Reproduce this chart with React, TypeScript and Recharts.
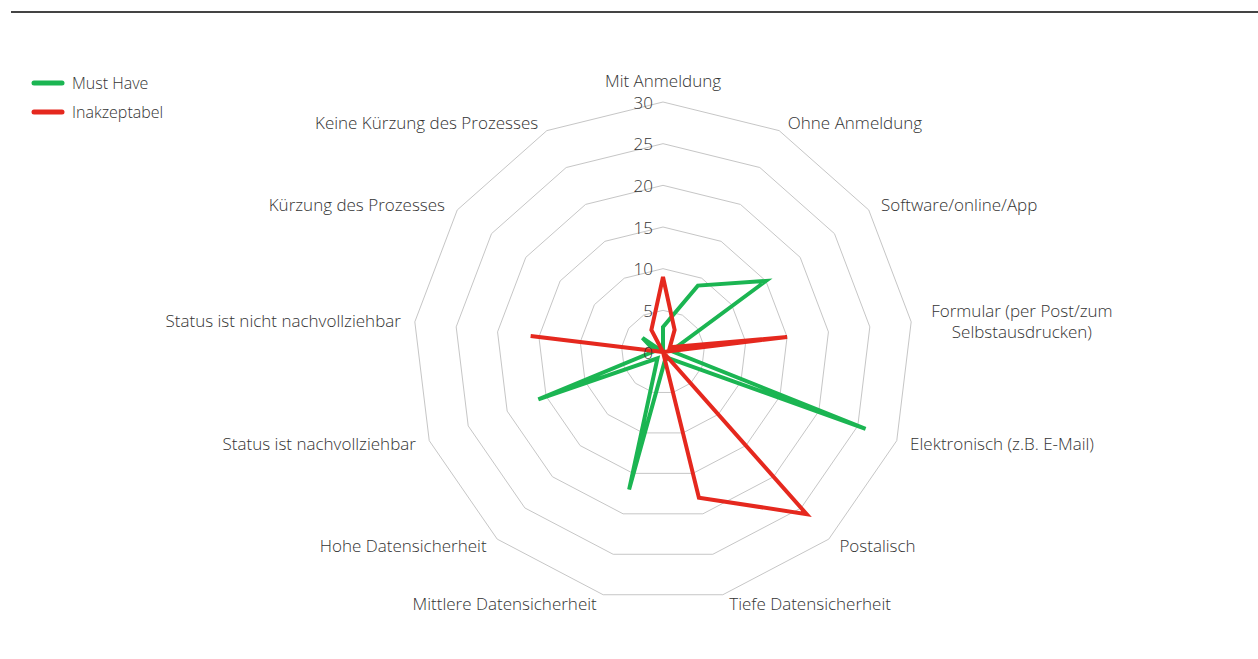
import React from "react";
import {
  RadarChart,
  Radar,
  PolarGrid,
  PolarAngleAxis,
  PolarRadiusAxis,
  Legend,
} from "recharts";

const CATEGORIES = [
  "Mit Anmeldung",
  "Ohne Anmeldung",
  "Software/online/App",
  "Formular (per Post/zum Selbstausdrucken)",
  "Elektronisch (z.B. E-Mail)",
  "Postalisch",
  "Tiefe Datensicherheit",
  "Mittlere Datensicherheit",
  "Hohe Datensicherheit",
  "Status ist nachvollziehbar",
  "Status ist nicht nachvollziehbar",
  "Kürzung des Prozesses",
  "Keine Kürzung des Prozesses",
];

const MUST_HAVE = [3, 9, 15, 1, 26, 1, 1, 17, 1, 16, 1, 3, 0];
const INAKZEPTABEL = [9, 3, 1, 15, 0, 26, 18, 0, 0, 0, 16, 0, 3];

const SERIES_NAMES = ["Must Have", "Inakzeptabel"];
const RADIUS_TICKS = [0, 5, 10, 15, 20, 25, 30];

// lange Beschriftung umbrechen wie im Original
const LABEL_LINES: Record<string, string[]> = {
  "Formular (per Post/zum Selbstausdrucken)": [
    "Formular (per Post/zum",
    "Selbstausdrucken)",
  ],
};

const data = CATEGORIES.map((name, i) => ({
  name,
  mustHave: MUST_HAVE[i],
  inakzeptabel: INAKZEPTABEL[i],
}));

const CX = 663;
const CY = 352;
const R = 250;
const GREEN = "#1bb552";
const RED = "#e5281e";
const FONT = "'Open Sans', 'Liberation Sans', sans-serif";
const TEXT = "#333";
const FS = 17;

function AngleTick(props: any) {
  const { payload } = props;
  const angle = (payload.coordinate * Math.PI) / 180;
  const cos = Math.cos(angle);
  const sin = Math.sin(angle);
  const lines = LABEL_LINES[payload.value] || [payload.value];
  let x = CX + R * cos;
  let y = CY - R * sin - 9 * sin;
  let anchor: "start" | "end" | "middle" = "middle";
  if (Math.abs(cos) < 0.05) {
    y = CY - R - 22;
  } else if (cos > 0) {
    anchor = "start";
    x += 4 + 10 * cos;
  } else {
    anchor = "end";
    x -= 4 + 10 * Math.abs(cos);
  }
  if (lines.length > 1) {
    // Block zentriert ausrichten
    const longest = Math.max(...lines.map((l) => l.length));
    if (anchor === "start") x += longest * 4.4;
    if (anchor === "end") x -= longest * 4.4;
    anchor = "middle";
  }
  const lh = 21;
  const top = y - ((lines.length - 1) * lh) / 2;
  return (
    <text
      textAnchor={anchor}
      fontSize={FS}
      fontFamily={FONT}
      fontWeight={300}
      fill={TEXT}
    >
      {lines.map((l, i) => (
        <tspan key={i} x={x} y={top + i * lh} dominantBaseline="central">
          {l}
        </tspan>
      ))}
    </text>
  );
}

function RadiusTick(props: any) {
  const { x, y, payload } = props;
  return (
    <text
      x={x - 10}
      y={y}
      textAnchor="end"
      dominantBaseline="central"
      fontSize={FS}
      fontFamily={FONT}
      fontWeight={300}
      fill={TEXT}
    >
      {payload.value}
    </text>
  );
}

function LegendContent(props: any) {
  const items = [...(props.payload || [])].sort(
    (a: any, b: any) =>
      SERIES_NAMES.indexOf(a.value) - SERIES_NAMES.indexOf(b.value)
  );
  return (
    <div style={{ fontFamily: FONT, fontWeight: 300, fontSize: 16, color: TEXT }}>
      {items.map((entry: any, i: number) => (
        <div
          key={i}
          style={{ display: "flex", alignItems: "center", height: 29 }}
        >
          <svg width={34} height={8} style={{ marginRight: 7 }}>
            <line
              x1={3}
              y1={4}
              x2={31}
              y2={4}
              stroke={entry.color}
              strokeWidth={5}
              strokeLinecap="round"
            />
          </svg>
          <span>{entry.value}</span>
        </div>
      ))}
    </div>
  );
}

export default function App() {
  return (
    <div style={{ position: "absolute", left: 0, top: 0, width: 1258, height: 659, background: "#fff" }}>
      <div
        style={{
          position: "absolute",
          left: 11,
          top: 11,
          width: 1247,
          height: 2,
          background: "#444",
        }}
      />
      <RadarChart
        width={1258}
        height={659}
        data={data}
        cx={CX}
        cy={CY}
        outerRadius={R}
        startAngle={90}
        endAngle={-270}
      >
        <PolarGrid
          gridType="polygon"
          radialLines={false}
          stroke="#c6c6c6"
          strokeWidth={1}
        />
        <PolarAngleAxis
          dataKey="name"
          tick={<AngleTick />}
          tickLine={false}
          axisLine={false}
        />
        <PolarRadiusAxis
          angle={90}
          domain={[0, 30]}
          ticks={RADIUS_TICKS as any}
          tickCount={7}
          tick={<RadiusTick />}
          axisLine={false}
        />
        <Radar
          name="Must Have"
          dataKey="mustHave"
          stroke={GREEN}
          strokeWidth={4}
          fill="none"
          fillOpacity={0}
          dot={false}
          isAnimationActive={false}
        />
        <Radar
          name="Inakzeptabel"
          dataKey="inakzeptabel"
          stroke={RED}
          strokeWidth={4}
          fill="none"
          fillOpacity={0}
          dot={false}
          isAnimationActive={false}
        />
        <Legend
          layout="vertical"
          verticalAlign="top"
          align="left"
          content={<LegendContent />}
          wrapperStyle={{ position: "absolute", left: 31, top: 68, width: 200 }}
        />
      </RadarChart>
    </div>
  );
}
